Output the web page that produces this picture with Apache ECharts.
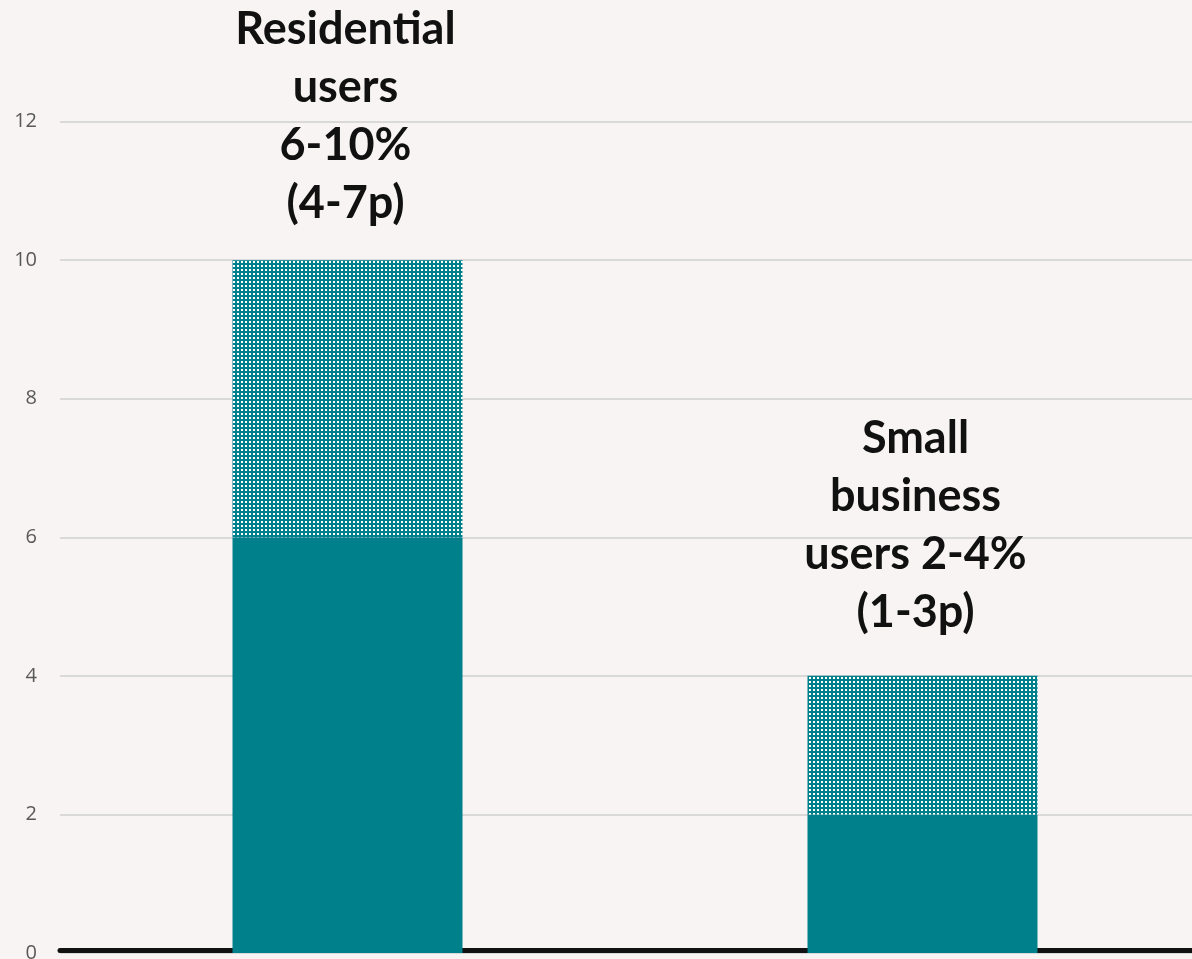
<!DOCTYPE html>
<html>
<head>
<meta charset="utf-8">
<script src="https://cdn.jsdelivr.net/npm/echarts@6/dist/echarts.min.js"></script>
<style>
html,body{margin:0;padding:0;background:#F8F4F3;}
#chart{width:1192px;height:959px;}
</style>
</head>
<body>
<div id="chart"></div>
<script>
const categories = ['Residential users', 'Small business users'];
const lowerValues = [6, 2];
const rangeValues = [4, 2];
const labelTexts = ['Residential\nusers\n6-10%\n(4-7p)', 'Small\nbusiness\nusers 2-4%\n(1-3p)'];
const yTicks = [0, 2, 4, 6, 8, 10, 12, 14];

const teal = '#00808A';
const cv = document.createElement('canvas');
cv.width = 4; cv.height = 4;
const cx = cv.getContext('2d');
cx.fillStyle = teal; cx.fillRect(0, 0, 4, 4);
cx.fillStyle = '#ffffff'; cx.fillRect(1, 1, 2, 2);

const labelDist = [28, 34];
const labelShift = [-2, -7];

const chart = echarts.init(document.getElementById('chart'), null, {renderer: 'canvas'});
chart.setOption({
  backgroundColor: '#F8F4F3',
  animation: false,
  grid: {left: 60, right: -18, top: -17, bottom: 6, containLabel: false, outerBoundsMode: 'none'},
  xAxis: {
    type: 'category',
    data: categories,
    axisLine: {show: true, lineStyle: {color: '#111111', width: 5}},
    axisTick: {show: false},
    axisLabel: {show: false},
    offset: -3
  },
  yAxis: {
    type: 'value',
    min: yTicks[0],
    max: yTicks[yTicks.length - 1],
    interval: 2,
    axisLine: {show: false},
    axisTick: {show: false},
    splitLine: {lineStyle: {color: '#D9D9D9', width: 2}},
    axisLabel: {
      color: '#595959', fontSize: 20, fontFamily: 'Open Sans',
      align: 'right', margin: 23
    }
  },
  series: [
    {
      type: 'bar', stack: 'a', barWidth: '40%',
      data: lowerValues,
      itemStyle: {color: teal}
    },
    {
      type: 'bar', stack: 'a', barWidth: '40%',
      data: rangeValues.map((v, i) => ({
        value: v,
        label: {distance: labelDist[i], offset: [labelShift[i], 0]}
      })),
      itemStyle: {color: {image: cv, repeat: 'repeat'}},
      label: {
        show: true, position: 'top',
        formatter: p => labelTexts[p.dataIndex],
        color: '#111111', fontSize: 45, fontWeight: 'bold',
        fontFamily: 'Lato', lineHeight: 58, align: 'center'
      }
    }
  ]
});
</script>
</body>
</html>
